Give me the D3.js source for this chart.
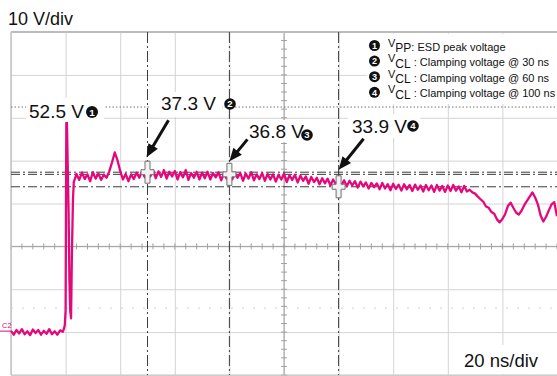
<!DOCTYPE html>
<html><head><meta charset="utf-8">
<script src="https://cdn.jsdelivr.net/npm/d3@7"></script>
<style>
body{margin:0;background:#fff}
svg{display:block}
text{font-family:"Liberation Sans",Arial,Helvetica,sans-serif}
</style>
</head><body>
<svg id="chart" width="557" height="376"></svg>
<script>
// ---------- data ----------
const timeDomain = [-20, 180];          // ns  (20 ns/div)
const voltDomain = [-10, 70];           // V   (10 V/div)
const timeGrid = [-20, 0, 20, 40, 60, 80, 100, 120, 140, 160, 180];
const voltGrid = [-10, 0, 10, 20, 30, 40, 50, 60, 70];
const timeAxisAt = 80, voltAxisAt = 20;

// baseline samples, t = -20 .. -1 ns (1 ns interval)
const baselineStart = -20, sampleStep = 1;
const baselineV = [0.3,-0.6,0.5,-0.3,0.7,-0.5,0.2,-0.7,0.6,-0.2,0.5,-0.6,0.3,-0.4,0.7,-0.5,0.2,-0.6,0.4,0.1];

// ESD pulse edge samples
const pulseT = [-0.6,-0.3,0,0.15,0.3,0.55,0.8,1.1,1.4,1.7,2.0,2.3,2.7];
const pulseV = [0.8,1.6,5,30,52.5,47,38,28,12,5,3.2,18,31];

// clamped plateau samples, t = 3 .. 180 ns (1 ns interval)
const plateauStart = 3;
const plateauV = [
 35.0,36.9,35.5,37.2,35.7,36.8,35.2,37.3,35.8,37.0,
 35.5,36.7,36.0,37.5,39.6,41.9,40.1,37.6,35.6,36.9,
 35.2,36.8,35.7,37.2,36.0,37.6,36.1,37.8,36.3,37.7,
 35.9,37.5,36.2,37.8,35.8,37.4,36.3,37.6,35.6,37.3,
 36.1,37.8,35.5,37.1,36.0,37.4,35.6,37.2,35.9,37.4,
 35.6,37.1,36.1,37.3,35.4,37.0,35.8,37.6,35.6,37.0,
 36.0,37.1,35.3,37.0,35.8,37.3,35.4,36.8,35.7,37.1,
 35.3,36.9,35.6,36.8,35.1,36.7,35.6,37.0,35.0,36.6,
 35.5,36.7,34.9,36.5,35.3,36.3,34.6,36.2,35.0,36.0,
 34.5,35.9,34.7,35.8,34.2,35.6,34.5,35.5,34.1,35.4,
 34.0,35.3,34.2,35.2,33.7,35.1,34.0,34.9,33.5,34.8,
 33.8,34.7,33.3,34.8,33.5,34.5,33.1,34.6,33.4,34.4,
 33.0,34.5,33.3,34.3,32.9,34.4,33.2,34.2,32.8,34.3,
 33.1,34.2,32.7,34.3,33.0,34.1,32.7,34.2,32.9,34.3,
 33.0,34.0,32.6,34.1,32.8,33.2,32.6,32.3,31.6,31.0,
 30.4,29.3,29.0,28.0,27.6,26.3,25.6,26.4,27.5,29.4,
 30.2,29.0,27.9,27.4,28.3,29.6,30.6,31.6,32.6,31.4,
 29.8,27.2,25.8,26.9,28.4,29.8,30.3,27.0
];

const peakVolt = 52.5;
const triggerVolt = 5.6;
const cursorTimes = [30, 60, 100];
const cursorVolts = [37.3, 36.8, 33.9];
const cursorLabels = ["37.3 V", "36.8 V", "33.9 V"];
const peakLabel = "52.5 V";
const legendSubs = ["PP", "CL", "CL", "CL"];
const legendTexts = [": ESD peak voltage", " : Clamping voltage @ 30 ns", " : Clamping voltage @ 60 ns", " : Clamping voltage @ 100 ns"];
const voltDivLabel = "10 V/div", timeDivLabel = "20 ns/div", channelLabel = "C2";

// ---------- build trace ----------
const trace = [];
baselineV.forEach((v,i)=>trace.push([baselineStart+i*sampleStep, v]));
pulseT.forEach((t,i)=>trace.push([t, pulseV[i]]));
plateauV.forEach((v,i)=>trace.push([plateauStart+i*sampleStep, v]));

// ---------- layout ----------
const L = 11, R = 557, T = 32, B = 375;
const x = d3.scaleLinear().domain(timeDomain).range([L, R]);
const y = d3.scaleLinear().domain(voltDomain).range([B, T]);
const svg = d3.select("#chart");
const pink = "#e4087c";

// grid
const gridG = svg.append("g");
gridG.append("g").attr("transform",`translate(0,${B})`)
  .call(d3.axisBottom(x).tickValues(timeGrid).tickSize(-(B-T)).tickFormat(""))
  .call(g=>{g.select(".domain").remove(); g.selectAll("line").attr("stroke","#d4d4d4");});
gridG.append("g").attr("transform",`translate(${L},0)`)
  .call(d3.axisLeft(y).tickValues(voltGrid).tickSize(-(R-L)).tickFormat(""))
  .call(g=>{g.select(".domain").remove(); g.selectAll("line").attr("stroke","#d4d4d4");});

// centre axes with minor ticks
const minorT = d3.range(timeDomain[0], timeDomain[1]+0.1, 4);
const minorV = d3.range(voltDomain[0], voltDomain[1]+0.1, 2);
const ax = svg.append("g").attr("stroke","#a0a0a0").attr("stroke-width",1);
ax.append("line").attr("x1",L).attr("x2",R).attr("y1",y(voltAxisAt)).attr("y2",y(voltAxisAt));
ax.append("line").attr("x1",x(timeAxisAt)).attr("x2",x(timeAxisAt)).attr("y1",T).attr("y2",B);
ax.selectAll(".mt").data(minorT).enter().append("line")
  .attr("x1",d=>x(d)).attr("x2",d=>x(d)).attr("y1",y(voltAxisAt)-3).attr("y2",y(voltAxisAt)+3);
ax.selectAll(".mv").data(minorV).enter().append("line")
  .attr("y1",d=>y(d)).attr("y2",d=>y(d)).attr("x1",x(timeAxisAt)-3).attr("x2",x(timeAxisAt)+3);

// border
svg.append("line").attr("x1",L).attr("x2",R).attr("y1",T).attr("y2",T).attr("stroke","#bcbcbc").attr("stroke-width",2);
svg.append("line").attr("x1",L).attr("x2",L).attr("y1",T).attr("y2",B).attr("stroke","#c4c4c4").attr("stroke-width",1.5);
svg.append("line").attr("x1",L).attr("x2",R).attr("y1",B).attr("y2",B).attr("stroke","#c4c4c4").attr("stroke-width",1);

// trigger level dotted line, peak dotted line
svg.append("line").attr("x1",L).attr("x2",R).attr("y1",y(triggerVolt)).attr("y2",y(triggerVolt))
  .attr("stroke","#cfcfcf").attr("stroke-dasharray","2,9");
svg.append("line").attr("x1",L).attr("x2",R).attr("y1",y(peakVolt)).attr("y2",y(peakVolt))
  .attr("stroke","#777").attr("stroke-dasharray","1.5,2");

// cursors
const cur = svg.append("g").attr("stroke","#3c3c3c").attr("stroke-width",1);
cur.selectAll(".h").data(cursorVolts).enter().append("line")
  .attr("x1",L).attr("x2",R).attr("y1",d=>y(d)).attr("y2",d=>y(d)).attr("stroke-dasharray","9,3,2,3");
cur.selectAll(".v").data(cursorTimes).enter().append("line")
  .attr("x1",d=>x(d)).attr("x2",d=>x(d)).attr("y1",T).attr("y2",B).attr("stroke-dasharray","11,3,2,3");

// trace
svg.append("path").datum(trace)
  .attr("d", d3.line().x(d=>x(d[0])).y(d=>y(d[1])))
  .attr("fill","none").attr("stroke",pink).attr("stroke-width",2.3).attr("stroke-linejoin","round");

// channel ground marker
svg.append("line").attr("x1",0).attr("x2",L).attr("y1",y(0)-1).attr("y2",y(0)-1).attr("stroke",pink).attr("stroke-width",1);
svg.append("text").attr("x",2).attr("y",y(0)-4).attr("font-size",7.5).attr("fill",pink).text(channelLabel);

// cursor markers (plus shape)
const plus = "M-2.5,-11h5v8.5h4v5h-4v8.5h-5v-8.5h-4v-5h4z";
svg.selectAll(".mk").data(cursorTimes).enter().append("path")
  .attr("d",plus).attr("transform",(d,i)=>`translate(${x(d)},${y(cursorVolts[i])})`)
  .attr("fill","#f2f2f2").attr("stroke","#707070").attr("stroke-width",1);

// helpers
function numCircle(cx, cy, n, r){
  svg.append("circle").attr("cx",cx).attr("cy",cy).attr("r",r).attr("fill","#111");
  svg.append("text").attr("x",cx).attr("y",cy+r*0.6).attr("text-anchor","middle")
    .attr("font-size",r*1.65).attr("font-weight","bold").attr("fill","#fff").text(n);
}
function box(x0,y0,w,h){ svg.append("rect").attr("x",x0).attr("y",y0).attr("width",w).attr("height",h).attr("fill","#fff"); }
function label(tx,ty,str,size){ return svg.append("text").attr("x",tx).attr("y",ty).attr("font-size",size).attr("fill","#111").text(str); }
function arrow(x1,y1,x2,y2){
  const dx=x2-x1, dy=y2-y1, len=Math.hypot(dx,dy), ux=dx/len, uy=dy/len;
  const hl=13, hw=5.5;
  const bx=x2-ux*hl, by=y2-uy*hl;
  svg.append("line").attr("x1",x1).attr("y1",y1).attr("x2",bx+ux*2).attr("y2",by+uy*2)
    .attr("stroke","#111").attr("stroke-width",3);
  svg.append("path").attr("d",`M${x2},${y2}L${bx-uy*hw},${by+ux*hw}L${bx+uy*hw},${by-ux*hw}Z`).attr("fill","#111");
}

// peak label
box(26, 98, 78, 24);
label(29, 118, peakLabel, 19);
numCircle(92, 112, 1, 6);

// cursor labels
const ann = [
  {tx:161, ty:110, cx:230, cy:104, b:[150,92,72,25], a:[21,-52,-1,-15]},
  {tx:249, ty:138, cx:307, cy:135, b:[246,120,70,22], a:[18,-35,0,-13]},
  {tx:352, ty:133, cx:413, cy:126, b:[348,114,72,24], a:[25,-48,0,-17]}
];
ann.forEach((o,i)=>{
  box(...o.b);
  label(o.tx, o.ty, cursorLabels[i], 19);
  numCircle(o.cx, o.cy, i+2, 5.8);
  const px=x(cursorTimes[i]), py=y(cursorVolts[i]);
  arrow(px+o.a[0], py+o.a[1], px+o.a[2], py+o.a[3]);
});

// legend
box(367, 34, 190, 70);
legendTexts.forEach((t,i)=>{
  const by = 50.5 + i*15.6;
  numCircle(374.5, by-5, i+1, 5.5);
  const tx = svg.append("text").attr("x",388).attr("y",by).attr("fill","#111");
  tx.append("tspan").attr("font-size",11).attr("dy",-4).text("V");
  tx.append("tspan").attr("font-size",12).attr("dy",5.5).text(legendSubs[i]);
  tx.append("tspan").attr("font-size",11).attr("dy",-1.5).text(t);
});

// scale labels
label(8, 25, voltDivLabel, 18);
box(458, 345, 92, 29);
label(464, 367, timeDivLabel, 18.5);
</script>
</body></html>
